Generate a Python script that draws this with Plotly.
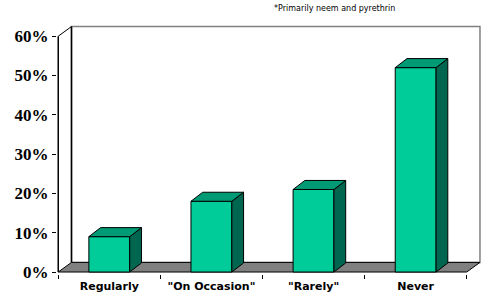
import plotly.graph_objects as go

# ---- data ----
categories = ['Regularly', '"On Occasion"', '"Rarely"', 'Never']
values = [9, 18, 21, 52]
ytick_vals = [0, 10, 20, 30, 40, 50, 60]
ytick_text = ['0%', '10%', '20%', '30%', '40%', '50%', '60%']
footnote = '*Primarily neem and pyrethrin'

# ---- styling / 3D geometry ----
FRONT = '#00CC99'
TOP = '#009A74'
SIDE = '#00664F'
BAR_W = 0.4
BDX, BDY = 0.115, 2.3     # bar depth offset (data units)
WDX, WDY = 0.13, 2.45     # wall depth offset
YMAX = 60
n = len(categories)
xc = [i + 0.5 for i in range(n)]

# top and side faces derived from values
tx, ty, sx, sy = [], [], [], []
for c, v in zip(xc, values):
    l, r = c - BAR_W / 2, c + BAR_W / 2
    tx += [l, l + BDX, r + BDX, r, l, None]
    ty += [v, v + BDY, v + BDY, v, v, None]
    sx += [r, r + BDX, r + BDX, r, r, None]
    sy += [0, BDY, v + BDY, v, 0, None]

fig = go.Figure()
fig.add_trace(go.Bar(x=xc, y=values, width=BAR_W, marker=dict(color=FRONT, line=dict(color='black', width=1)),
                     hoverinfo='skip'))
fig.add_trace(go.Scatter(x=sx, y=sy, fill='toself', fillcolor=SIDE, mode='lines',
                         line=dict(color='black', width=1), hoverinfo='skip'))
fig.add_trace(go.Scatter(x=tx, y=ty, fill='toself', fillcolor=TOP, mode='lines',
                         line=dict(color='black', width=1), hoverinfo='skip'))

shapes = [
    # back wall
    dict(type='rect', xref='x', yref='y', x0=WDX, y0=WDY, x1=n + WDX, y1=YMAX + WDY,
         fillcolor='white', line=dict(color='#808080', width=1.5), layer='below'),
    dict(type='line', xref='x', yref='y', x0=WDX, y0=WDY, x1=WDX, y1=YMAX + WDY,
         line=dict(color='black', width=1.5), layer='below'),
    # floor
    dict(type='path', xref='x', yref='y',
         path=f'M 0 0 L {WDX} {WDY} L {n + WDX} {WDY} L {n} 0 Z',
         fillcolor='#808080', line=dict(color='black', width=1), layer='below'),
    # front axis line and top connector
    dict(type='line', xref='x', yref='y', x0=0, y0=0, x1=0, y1=YMAX,
         line=dict(color='black', width=1.5), layer='below'),
    dict(type='line', xref='x', yref='y', x0=0, y0=YMAX, x1=WDX, y1=YMAX + WDY,
         line=dict(color='black', width=1), layer='below'),
]

fig.update_layout(
    width=488, height=295,
    margin=dict(l=57, r=7, t=24, b=21, autoexpand=False),
    paper_bgcolor='white', plot_bgcolor='white',
    showlegend=False,
    shapes=shapes,
    xaxis=dict(range=[-0.012, n + 0.14], showgrid=False, zeroline=False, showline=False,
               automargin=False,
               tickvals=xc, ticktext=categories, ticks='',
               tickfont=dict(family='DejaVu Sans', size=11, color='black', weight='bold'),
               ticklabelstandoff=4,
               minor=dict(tickvals=list(range(n + 1)), ticks='outside', ticklen=4,
                          tickcolor='black', tickwidth=1, showgrid=False)),
    yaxis=dict(range=[-0.5, 63.1], showgrid=False, zeroline=False, showline=False,
               automargin=False,
               tickvals=ytick_vals, ticktext=ytick_text, ticks='outside', ticklen=4,
               tickcolor='black',
               tickfont=dict(family='Liberation Serif', size=17, color='black', weight='bold')),
    annotations=[dict(text=footnote, xref='paper', yref='paper', x=0.507, y=1.06,
                      xanchor='left', yanchor='middle', showarrow=False,
                      font=dict(family='DejaVu Sans', size=8, color='black'))],
)

# remove the default 8px page margin so the figure sits at the window's top-left corner
fig.write_html('out.html', config={'displayModeBar': False},
               post_script="document.body.style.margin='0px';document.body.style.overflow='hidden';")
